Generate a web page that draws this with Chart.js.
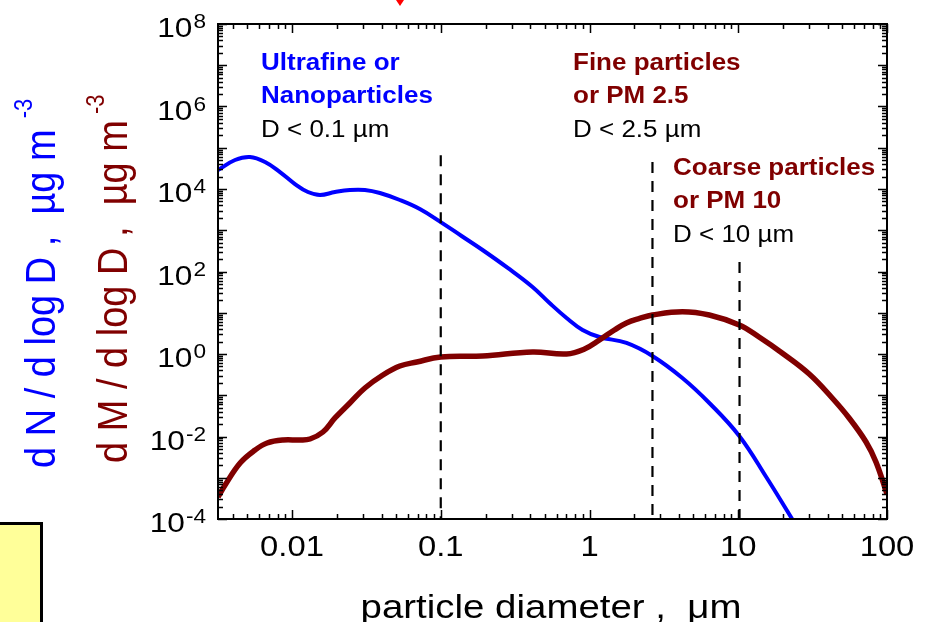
<!DOCTYPE html>
<html>
<head>
<meta charset="utf-8">
<script src="https://cdn.jsdelivr.net/npm/chart.js@4/dist/chart.umd.min.js"></script>
<style>
  html, body { margin: 0; padding: 0; background: #ffffff; }
  #wrap { position: relative; width: 928px; height: 622px; }
</style>
</head>
<body>
<div id="wrap"><canvas id="c" width="928" height="622"></canvas></div>
<script>
// ---- data ----
const numberDiam = [0.00318, 0.00414, 0.00522, 0.00659, 0.0083, 0.01047, 0.0128, 0.01542, 0.01945, 0.02449, 0.0309, 0.039, 0.0531, 0.0723, 0.100, 0.138, 0.191, 0.282, 0.414, 0.539, 0.701, 0.898, 1.167, 1.772, 2.648, 4.21, 6.39, 10.16, 15.42, 23.03];
const numberConc = [2.89e4, 5.05e4, 5.97e4, 4.52e4, 2.58e4, 1.32e4, 8.45e3, 7.16e3, 8.45e3, 9.46e3, 9.46e3, 8.0e3, 5.41e3, 3.27e3, 1.58e3, 726, 332, 122, 42.1, 17.2, 7.46, 3.82, 2.58, 1.85, 0.894, 0.262, 0.0649, 0.0103, 1.04e-3, 1e-4];

const massDiam = [0.00318, 0.00355, 0.00448, 0.00565, 0.0068, 0.00871, 0.01132, 0.01321, 0.01614, 0.01945, 0.02449, 0.0309, 0.0408, 0.0531, 0.069, 0.100, 0.191, 0.414, 0.701, 0.926, 1.167, 1.47, 1.772, 2.17, 2.648, 4.21, 6.39, 10.16, 13.8, 19.7, 30.0, 42.8, 55.6, 72.3, 84.3, 100];
const massConc = [3.41e-4, 6.67e-4, 2.28e-3, 4.71e-3, 6.95e-3, 8.22e-3, 8.22e-3, 8.69e-3, 0.01285, 0.0281, 0.0649, 0.150, 0.310, 0.512, 0.640, 0.846, 0.894, 1.12, 1.0, 1.32, 2.18, 3.82, 5.65, 7.26, 8.82, 10.6, 8.82, 5.05, 2.58, 1.06, 0.327, 0.0858, 0.0281, 7.36e-3, 2.41e-3, 4.04e-4];

const cutDiam = [0.1, 2.65, 10.2];
const cutTop = [6.6e4, 4.5e4, 170];

const xTickValues = [0.01, 0.1, 1, 10, 100];
const xTickLabels = ['0.01', '0.1', '1', '10', '100'];
const yTickExponents = [-4, -2, 0, 2, 4, 6, 8];

const xTitle = 'particle diameter ,  \u03BCm';
const yTitleN = 'd N / d log D ,  \u00B5g m';
const yTitleM = 'd M / d log D ,  \u00B5g m';
const yTitleSup = '-3';

const annotationTitles = [['Ultrafine or', 'Nanoparticles'], ['Fine particles', 'or PM 2.5'], ['Coarse particles', 'or PM 10']];
const annotationNotes = ['D < 0.1 \u00B5m', 'D < 2.5 \u00B5m', 'D < 10 \u00B5m'];
const annotationColors = ['#0000FF', '#800000', '#800000'];

// ---- rendering ----
const SX = 1.13; // horizontal stretch of the reference text
const FONT = '"Liberation Sans", Arial, sans-serif';

function txt(ctx, s, x, y, font, color, align) {
  ctx.save();
  ctx.font = font;
  ctx.fillStyle = color;
  ctx.textBaseline = 'alphabetic';
  ctx.textAlign = 'left';
  const w = ctx.measureText(s).width * SX;
  let x0 = x;
  if (align === 'center') x0 = x - w / 2;
  else if (align === 'right') x0 = x - w;
  ctx.translate(x0, y);
  ctx.scale(SX, 1);
  ctx.fillText(s, 0, 0);
  ctx.restore();
  return w;
}

function pts(xs, ys) { return xs.map((x, i) => ({ x: x, y: ys[i] })); }

const datasets = [
  {
    label: 'dN/dlogD', data: pts(numberDiam, numberConc),
    borderColor: '#0000FF', borderWidth: 4, pointRadius: 0,
    tension: 0.4, showLine: true, fill: false, order: 3
  },
  {
    label: 'dM/dlogD', data: pts(massDiam, massConc),
    borderColor: '#800000', borderWidth: 5.5, pointRadius: 0,
    tension: 0.4, showLine: true, fill: false, order: 2
  }
];
cutDiam.forEach((d, i) => {
  datasets.push({
    label: 'cut' + i, data: [{ x: d, y: cutTop[i] }, { x: d, y: 1e-4 }],
    borderColor: '#000000', borderWidth: 2.2, borderDash: [11, 8], pointRadius: 0,
    showLine: true, fill: false, order: 0
  });
});

const decor = {
  id: 'decor',
  beforeDraw(chart) {
    const ctx = chart.ctx;
    ctx.save();
    ctx.fillStyle = '#ffffff';
    ctx.fillRect(0, 0, chart.width, chart.height);
    // yellow box at bottom left
    ctx.fillStyle = '#FFFF99';
    ctx.fillRect(0, 522, 41, 100);
    ctx.strokeStyle = '#000000';
    ctx.lineWidth = 3;
    ctx.beginPath();
    ctx.moveTo(0, 523.5); ctx.lineTo(41.5, 523.5); ctx.lineTo(41.5, 622);
    ctx.stroke();
    // small red arrow tip at top
    ctx.fillStyle = '#FF0000';
    ctx.beginPath();
    ctx.moveTo(396, 0); ctx.lineTo(404, 0); ctx.lineTo(400, 6); ctx.closePath();
    ctx.fill();
    ctx.restore();
  },
  afterDatasetsDraw(chart) {
    const ctx = chart.ctx;
    const a = chart.chartArea;
    const xs = chart.scales.x, ys = chart.scales.y;
    ctx.save();
    ctx.strokeStyle = '#000000';
    // inward ticks on all four sides
    ctx.lineWidth = 1.5;
    ctx.beginPath();
    for (let d = -3; d <= 2; d++) {
      for (let m = 1; m <= 9; m++) {
        const v = m * Math.pow(10, d);
        if (v < xs.min * 0.999 || v > xs.max * 1.001) continue;
        const px = Math.round(xs.getPixelForValue(v)) + 0.5;
        const len = m === 1 ? 9 : 5;
        ctx.moveTo(px, a.bottom); ctx.lineTo(px, a.bottom - len);
        ctx.moveTo(px, a.top); ctx.lineTo(px, a.top + len);
      }
    }
    for (let d = -4; d <= 8; d++) {
      for (let m = 1; m <= 9; m++) {
        const v = m * Math.pow(10, d);
        if (v < ys.min * 0.999 || v > ys.max * 1.001) continue;
        const py = Math.round(ys.getPixelForValue(v)) + 0.5;
        const len = m === 1 ? 9 : 5;
        ctx.moveTo(a.left, py); ctx.lineTo(a.left + len, py);
        ctx.moveTo(a.right, py); ctx.lineTo(a.right - len, py);
      }
    }
    ctx.stroke();
    // frame
    ctx.lineWidth = 2;
    ctx.strokeRect(a.left, a.top, a.right - a.left, a.bottom - a.top);
    ctx.restore();

    // y tick labels with superscripts
    yTickExponents.forEach(e => {
      const py = ys.getPixelForValue(Math.pow(10, e));
      const sw = txt(ctx, String(e), 206, py + 4, '20px ' + FONT, '#000000', 'right');
      txt(ctx, '10', 206 - sw - 1, py + 13, '28px ' + FONT, '#000000', 'right');
    });
    // x tick labels
    xTickValues.forEach((v, i) => {
      const px = xs.getPixelForValue(v);
      txt(ctx, xTickLabels[i], px, 556, '29px ' + FONT, '#000000', 'center');
    });
    // x title
    txt(ctx, xTitle, 551, 618, '34px ' + FONT, '#000000', 'center');

    // y titles (rotated)
    function yTitle(s, bx, by, color, gap) {
      ctx.save();
      ctx.translate(bx, by);
      ctx.rotate(-Math.PI / 2);
      ctx.scale(1, SX);
      ctx.fillStyle = color;
      ctx.font = '38px ' + FONT;
      ctx.textBaseline = 'alphabetic';
      ctx.textAlign = 'left';
      ctx.fillText(s, 0, 0);
      const w = ctx.measureText(s).width;
      ctx.font = '22px ' + FONT;
      ctx.fillText(yTitleSup, w + gap, -20);
      ctx.restore();
    }
    yTitle(yTitleN, 55, 468, '#0000FF', 11);
    yTitle(yTitleM, 127, 463, '#800000', 6);

    // annotations
    const pos = [{ x: 261, y: 70 }, { x: 573, y: 70 }, { x: 673, y: 175 }];
    annotationTitles.forEach((lines, i) => {
      const p = pos[i];
      lines.forEach((l, j) => {
        txt(ctx, l, p.x, p.y + j * 33, 'bold 23px ' + FONT, annotationColors[i], 'left');
      });
      txt(ctx, annotationNotes[i], p.x, p.y + lines.length * 33 + 1, '23px ' + FONT, '#000000', 'left');
    });
  }
};

new Chart(document.getElementById('c'), {
  type: 'scatter',
  data: { datasets: datasets },
  options: {
    responsive: false,
    animation: false,
    devicePixelRatio: 1,
    layout: { padding: { left: 158, right: 41, top: 24, bottom: 0 } },
    plugins: { legend: { display: false }, tooltip: { enabled: false } },
    scales: {
      x: {
        type: 'logarithmic', min: 0.00318, max: 100,
        grid: { display: false }, border: { display: false },
        ticks: { display: false },
        afterFit(s) { s.height = 103; }
      },
      y: {
        type: 'logarithmic', min: 1e-4, max: 1e8,
        grid: { display: false }, border: { display: false },
        ticks: { display: false },
        afterFit(s) { s.width = 60; }
      }
    }
  },
  plugins: [decor]
});
</script>
</body>
</html>
